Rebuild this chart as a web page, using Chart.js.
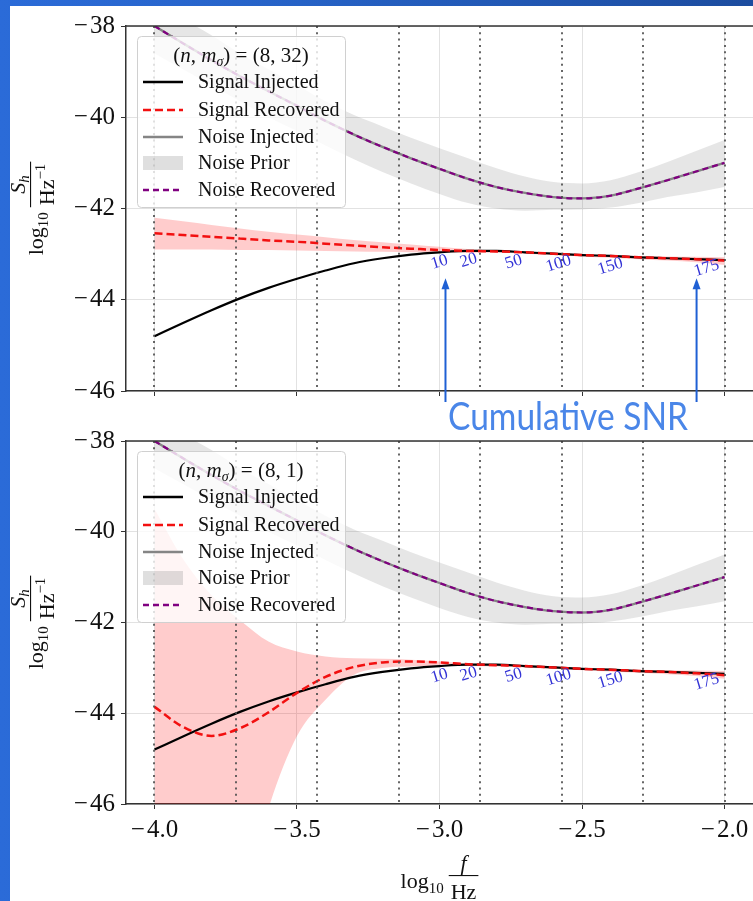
<!DOCTYPE html>
<html>
<head>
<meta charset="utf-8">
<script src="https://cdn.jsdelivr.net/npm/chart.js@4.4.1/dist/chart.umd.min.js"></script>
<style>
html, body { margin: 0; padding: 0; }
body { width: 753px; height: 901px; overflow: hidden; position: relative;
       background: linear-gradient(to right, #2b6bd8 0%, #2662c6 40%, #1c4c9f 100%); }
#paper { position: absolute; left: 10px; top: 6px; width: 743px; height: 895px; background: #fff; }
#c1 { position: absolute; left: 0; top: 0; }
#c2 { position: absolute; left: 0; top: 410px; }
</style>
</head>
<body>
<div id="paper">
  <canvas id="c1" width="743" height="430"></canvas>
  <canvas id="c2" width="743" height="485"></canvas>
</div>
<script>
// log10 f/Hz sample points
var logF = [-4.0, -3.9, -3.8, -3.7, -3.6, -3.5, -3.4, -3.3, -3.2, -3.1, -3.0,
            -2.9, -2.8, -2.7, -2.6, -2.5, -2.4, -2.3, -2.2, -2.1, -2.0];

var signalInjected = [-44.8, -44.51, -44.23, -43.97, -43.74, -43.54, -43.36, -43.2, -43.09, -43.01, -42.96,
                      -42.93, -42.93, -42.96, -42.99, -43.02, -43.04, -43.07, -43.09, -43.11, -43.13];

var noiseInjected = [-38.0, -38.38, -38.75, -39.1, -39.43, -39.75, -40.08, -40.38, -40.65, -40.9, -41.13,
                     -41.35, -41.53, -41.66, -41.75, -41.78, -41.72, -41.56, -41.38, -41.19, -41.0];
var noisePriorHi = [-37.5, -37.85, -38.2, -38.6, -38.95, -39.3, -39.65, -39.95, -40.2, -40.45, -40.68,
                    -40.9, -41.12, -41.3, -41.42, -41.45, -41.38, -41.2, -40.98, -40.74, -40.5];
var noisePriorLo = [-38.6, -38.95, -39.3, -39.65, -40.0, -40.3, -40.62, -40.92, -41.2, -41.45, -41.68,
                    -41.88, -42.0, -42.05, -42.03, -42.02, -41.98, -41.88, -41.75, -41.65, -41.53];

// panel 1: (n, m_sigma) = (8, 32)
var recovered32 = [-42.54, -42.58, -42.62, -42.66, -42.7, -42.73, -42.77, -42.81, -42.85, -42.88, -42.91,
                   -42.93, -42.94, -42.96, -42.99, -43.02, -43.04, -43.07, -43.09, -43.11, -43.14];
var band32Hi = [-42.2, -42.28, -42.36, -42.44, -42.51, -42.57, -42.63, -42.69, -42.74, -42.79, -42.84,
                -42.89, -42.92, -42.94, -42.97, -43.0, -43.02, -43.04, -43.05, -43.06, -43.07];
var band32Lo = [-42.9, -42.9, -42.9, -42.91, -42.91, -42.92, -42.93, -42.94, -42.95, -42.96, -42.97,
                -42.97, -42.97, -42.99, -43.02, -43.05, -43.08, -43.11, -43.14, -43.18, -43.24];

// panel 2: (n, m_sigma) = (8, 1)
var recovered1 = [-43.86, -44.3, -44.5, -44.33, -43.98, -43.55, -43.2, -42.98, -42.88, -42.86, -42.88,
                  -42.92, -42.94, -42.96, -42.99, -43.02, -43.04, -43.07, -43.09, -43.12, -43.16];
var band1Hi = [-39.5, -40.6, -41.4, -41.95, -42.42, -42.64, -42.75, -42.79, -42.8, -42.82, -42.86,
               -42.9, -42.92, -42.94, -42.97, -43.0, -43.02, -43.04, -43.05, -43.06, -43.07];
var band1Lo = [-50.0, -50.0, -50.0, -48.5, -46.1, -44.5, -43.7, -43.15, -43.0, -42.97, -42.96,
               -42.96, -42.97, -42.99, -43.02, -43.05, -43.08, -43.11, -43.14, -43.18, -43.24];

// dotted frequency markers, cumulative SNR labels, arrows
var markerF = [-4.0, -3.714, -3.429, -3.143, -2.857, -2.571, -2.286, -2.0];
var snrLabels = ['10', '20', '50', '100', '150', '175'];
var snrX = [-3.0, -2.898, -2.74, -2.582, -2.4, -2.063];
var snrY = [-43.18, -43.14, -43.17, -43.21, -43.27, -43.31];
var arrowX = [-2.979, -2.098];
var arrowTipY = -43.53;

var xTicks = [-4.0, -3.5, -3.0, -2.5, -2.0];
var yTicks = [-46, -44, -42, -40, -38];

var SERIF = '"Liberation Serif", "Times New Roman", serif';
var RED = '#f21010', PURPLE = '#800080', GREY = '#858585';

function pts(ys) { return logF.map(function (v, i) { return {x: v, y: ys[i]}; }); }
function minus(s) { return s.replace('-', '\u2212\u200a'); }

function drawParts(ctx, parts, x, y) {
  parts.forEach(function (p) {
    ctx.font = p.f;
    ctx.fillText(p.t, x, y + (p.dy || 0));
    x += ctx.measureText(p.t).width;
  });
}
function partsWidth(ctx, parts) {
  var w = 0;
  parts.forEach(function (p) { ctx.font = p.f; w += ctx.measureText(p.t).width; });
  return w;
}
function drawLogFrac(ctx, cx, by, num, den) {
  var logParts = [{t: 'log', f: '22px ' + SERIF}, {t: '10', f: '15px ' + SERIF, dy: 5}];
  var wl = partsWidth(ctx, logParts), wn = partsWidth(ctx, num), wd = partsWidth(ctx, den);
  var wf = Math.max(wn, wd) + 4;
  var x0 = cx - (wl + 5 + wf) / 2;
  ctx.textAlign = 'left'; ctx.textBaseline = 'alphabetic'; ctx.fillStyle = '#111';
  drawParts(ctx, logParts, x0, by);
  var fx = x0 + wl + 5;
  ctx.fillRect(fx, by - 13, wf, 1.1);
  drawParts(ctx, num, fx + (wf - wn) / 2, by - 18);
  drawParts(ctx, den, fx + (wf - wd) / 2, by + 11);
}

var legendItems = [
  {label: 'Signal Injected', color: '#000', dash: []},
  {label: 'Signal Recovered', color: RED, dash: [8, 4]},
  {label: 'Noise Injected', color: GREY, dash: []},
  {label: 'Noise Prior', box: 'rgba(128,128,128,0.25)'},
  {label: 'Noise Recovered', color: PURPLE, dash: [6, 4]}
];

function panelPlugin(p) {
  return {
    id: 'panel' + p.name,
    afterDatasetsDraw: function (chart) {
      var ctx = chart.ctx, a = chart.chartArea, xs = chart.scales.x, ys = chart.scales.y;
      ctx.save();
      ctx.beginPath(); ctx.rect(a.left, a.top, a.right - a.left, a.bottom - a.top); ctx.clip();
      ctx.strokeStyle = 'rgba(75,75,75,0.85)'; ctx.lineWidth = 2; ctx.setLineDash([2, 4.3]);
      markerF.forEach(function (v) {
        var px = Math.round(xs.getPixelForValue(v));
        ctx.beginPath(); ctx.moveTo(px, a.top); ctx.lineTo(px, a.bottom); ctx.stroke();
      });
      ctx.setLineDash([]);
      ctx.fillStyle = '#3434d6'; ctx.font = '17px ' + SERIF;
      ctx.textAlign = 'center'; ctx.textBaseline = 'middle';
      snrLabels.forEach(function (t, i) {
        ctx.save();
        ctx.translate(xs.getPixelForValue(snrX[i]), ys.getPixelForValue(snrY[i]));
        ctx.rotate(-17 * Math.PI / 180);
        ctx.fillText(t, 0, 0);
        ctx.restore();
      });
      ctx.restore();

      // top spine
      ctx.save();
      ctx.strokeStyle = '#333'; ctx.lineWidth = 1.5;
      ctx.beginPath(); ctx.moveTo(a.left, a.top); ctx.lineTo(a.right, a.top); ctx.stroke();

      // legend
      var bx = a.left + 11, by = a.top + 10, bw = 208, bh = 171;
      ctx.beginPath(); ctx.roundRect(bx + 0.5, by + 0.5, bw, bh, 4);
      ctx.fillStyle = 'rgba(255,255,255,0.8)'; ctx.fill();
      ctx.strokeStyle = '#d0d0d0'; ctx.lineWidth = 1; ctx.stroke();
      var tParts = [{t: '(', f: '21px ' + SERIF}, {t: 'n', f: 'italic 21px ' + SERIF},
                    {t: ', ', f: '21px ' + SERIF}, {t: 'm', f: 'italic 21px ' + SERIF},
                    {t: '\u03c3', f: 'italic 14px ' + SERIF, dy: 4},
                    {t: ') = ' + p.title, f: '21px ' + SERIF}];
      ctx.fillStyle = '#111'; ctx.textAlign = 'left'; ctx.textBaseline = 'alphabetic';
      drawParts(ctx, tParts, bx + bw / 2 - partsWidth(ctx, tParts) / 2, by + 26);
      var rows = [46, 74, 101, 127, 154];
      legendItems.forEach(function (it, i) {
        var ry = by + rows[i];
        if (it.box) {
          ctx.fillStyle = it.box; ctx.fillRect(bx + 6, ry - 7, 40, 14);
        } else {
          ctx.strokeStyle = it.color; ctx.lineWidth = 2.3; ctx.setLineDash(it.dash);
          ctx.beginPath(); ctx.moveTo(bx + 6, ry); ctx.lineTo(bx + 46, ry); ctx.stroke();
          ctx.setLineDash([]);
        }
        ctx.fillStyle = '#111'; ctx.font = '20px ' + SERIF; ctx.textBaseline = 'middle';
        ctx.fillText(it.label, bx + 61, ry + 1);
      });
      ctx.restore();
    },
    afterDraw: function (chart) {
      var ctx = chart.ctx, a = chart.chartArea, xs = chart.scales.x, ys = chart.scales.y;
      ctx.save();
      // y title
      ctx.save();
      ctx.translate(33, (a.top + a.bottom) / 2);
      ctx.rotate(-Math.PI / 2);
      drawLogFrac(ctx, 0, 0,
        [{t: 'S', f: 'italic 22px ' + SERIF}, {t: 'h', f: 'italic 15px ' + SERIF, dy: 4}],
        [{t: 'Hz', f: '22px ' + SERIF}, {t: '\u22121', f: '15px ' + SERIF, dy: -9}]);
      ctx.restore();
      if (p.xTitle) {
        drawLogFrac(ctx, (a.left + a.right) / 2, a.bottom + 84,
          [{t: 'f', f: 'italic 22px ' + SERIF}], [{t: 'Hz', f: '22px ' + SERIF}]);
      }
      if (p.arrows) {
        ctx.strokeStyle = '#1f60d4'; ctx.fillStyle = '#1f60d4'; ctx.lineWidth = 2;
        arrowX.forEach(function (v) {
          var px = xs.getPixelForValue(v), tip = ys.getPixelForValue(arrowTipY);
          ctx.beginPath(); ctx.moveTo(px, a.bottom + 11); ctx.lineTo(px, tip + 8); ctx.stroke();
          ctx.beginPath(); ctx.moveTo(px, tip); ctx.lineTo(px - 4, tip + 11); ctx.lineTo(px + 4, tip + 11);
          ctx.closePath(); ctx.fill();
        });
        ctx.font = '39px Lato, "Open Sans", sans-serif';
        var w = ctx.measureText('Cumulative SNR').width;
        ctx.translate(558, 424);
        ctx.scale(240 / w, 1);
        ctx.fillStyle = '#4a86e8'; ctx.textAlign = 'center'; ctx.textBaseline = 'alphabetic';
        ctx.fillText('Cumulative SNR', 0, 0);
      }
      ctx.restore();
    }
  };
}

function makeChart(id, recovered, bandHi, bandLo, p) {
  var line = function (label, ys, color, dash, width) {
    return {label: label, data: pts(ys), borderColor: color, borderDash: dash, borderWidth: width, fill: false};
  };
  var band = function (ys, fill, bg) {
    return {data: pts(ys), borderWidth: 0, borderColor: 'transparent', backgroundColor: bg, fill: fill};
  };
  return new Chart(document.getElementById(id), {
    type: 'line',
    data: {
      datasets: [
        line('Signal Recovered', recovered, RED, [8, 4], 2.5),
        line('Signal Injected', signalInjected, '#000', [], 2.2),
        line('Noise Recovered', noiseInjected, PURPLE, [6, 4], 2.2),
        line('Noise Injected', noiseInjected, GREY, [], 2.3),
        band(bandHi, false, 'transparent'),
        band(bandLo, '-1', 'rgba(255,0,0,0.2)'),
        band(noisePriorHi, false, 'transparent'),
        band(noisePriorLo, '-1', 'rgba(128,128,128,0.2)')
      ]
    },
    options: {
      responsive: false, animation: false,
      layout: {padding: {top: p.padTop, left: 0, right: 0, bottom: 0}},
      plugins: {legend: {display: false}, tooltip: {enabled: false}},
      elements: {point: {radius: 0}, line: {tension: 0.4, cubicInterpolationMode: 'monotone'}},
      scales: {
        x: {
          type: 'linear', min: -4.1, max: -1.9,
          afterBuildTicks: function (s) { s.ticks = xTicks.map(function (v) { return {value: v}; }); },
          afterFit: function (s) { s.height = p.xAxisH; s.paddingLeft = 0; s.paddingRight = 0; },
          grid: {color: '#e2e2e2', lineWidth: 1, tickColor: '#333', tickLength: 5},
          border: {color: '#333', width: 1.5},
          ticks: {display: p.xLabels, color: '#111', padding: 6, maxRotation: 0, autoSkip: false,
                  font: {family: SERIF, size: 25},
                  callback: function (v) { return minus(v.toFixed(1)); }}
        },
        y: {
          min: -46, max: -38,
          afterBuildTicks: function (s) { s.ticks = yTicks.map(function (v) { return {value: v}; }); },
          afterFit: function (s) { s.width = 116; s.paddingTop = 0; s.paddingBottom = 0; },
          grid: {color: '#e2e2e2', lineWidth: 1, tickColor: '#333', tickLength: 5},
          border: {color: '#333', width: 1.5},
          ticks: {color: '#111', padding: 6, font: {family: SERIF, size: 25},
                  callback: function (v) { return minus(v.toFixed(0)); }}
        }
      }
    },
    plugins: [panelPlugin(p)]
  });
}

makeChart('c1', recovered32, band32Hi, band32Lo,
  {name: 'top', title: '(8, 32)', padTop: 20, xAxisH: 45, xLabels: false, arrows: true, xTitle: false});
makeChart('c2', recovered1, band1Hi, band1Lo,
  {name: 'bottom', title: '(8, 1)', padTop: 25, xAxisH: 97, xLabels: true, arrows: false, xTitle: true});
</script>
</body>
</html>
